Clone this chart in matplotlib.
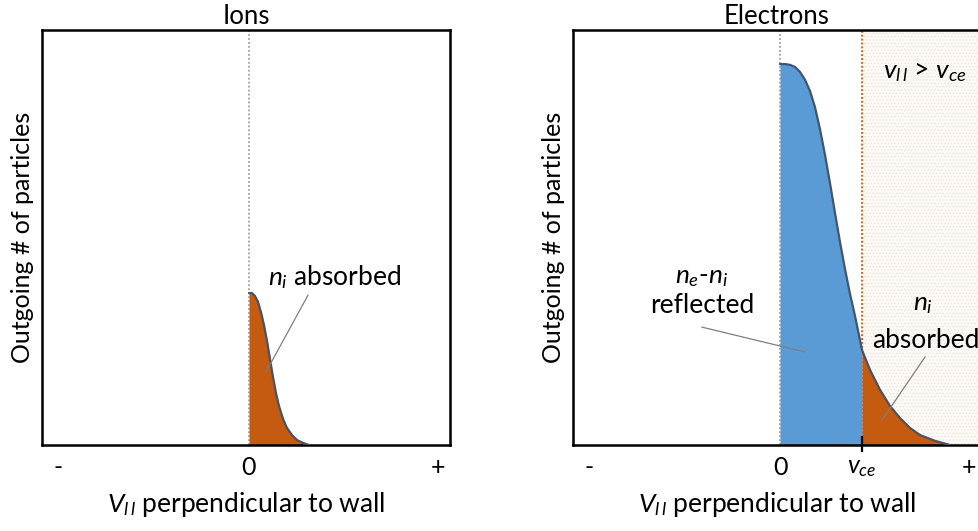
import numpy as np
import matplotlib
matplotlib.use("Agg")
import matplotlib.pyplot as plt

plt.rcParams['font.family'] = ['Lato', 'DejaVu Sans']
plt.rcParams['mathtext.fontset'] = 'custom'
plt.rcParams['mathtext.rm'] = 'Lato'
plt.rcParams['mathtext.it'] = 'Lato:italic'
plt.rcParams['hatch.linewidth'] = 0.5

# outgoing distributions (arbitrary units)
ion_v = [0, 0.015, 0.03, 0.045, 0.06, 0.075, 0.09, 0.105, 0.12, 0.135, 0.15,
         0.17, 0.19, 0.215, 0.24, 0.27, 0.30]
ion_f = [0.366, 0.366, 0.359, 0.345, 0.320, 0.289, 0.251, 0.207, 0.164, 0.125, 0.094,
         0.063, 0.041, 0.024, 0.012, 0.005, 0.0]

elec_v = [0, 0.025, 0.05, 0.075, 0.1, 0.125, 0.15, 0.175, 0.2, 0.225, 0.25, 0.275, 0.3,
          0.325, 0.35, 0.375, 0.41, 0.45, 0.5, 0.55, 0.6, 0.65, 0.7, 0.775, 0.85]
elec_f = [0.918, 0.918, 0.916, 0.911, 0.899, 0.880, 0.853, 0.814, 0.761, 0.699, 0.631,
          0.559, 0.489, 0.424, 0.364, 0.311, 0.229, 0.181, 0.133, 0.094, 0.065, 0.041,
          0.024, 0.010, 0.0]

v_ce = 0.41
xticks = [-0.955, 0, 0.945]
xlabels = ["-", "0", "+"]

orange = "#c55a11"
blue = "#5b9bd5"
outline = "#44546a"
vpar = r"$V_{l\,l}$"

fig = plt.figure(figsize=(9.79, 5.31), dpi=100)
W, H = 979, 531
ax1 = fig.add_axes([42 / W, 86 / H, 408 / W, 415 / H])
ax2 = fig.add_axes([573 / W, 86 / H, 408 / W, 415 / H])

for ax in (ax1, ax2):
    ax.set_xlim(-1.035, 1.005)
    ax.set_ylim(0, 1)
    for s in ax.spines.values():
        s.set_linewidth(1.8)
        s.set_color("black")
    ax.set_yticks([])
    ax.axvline(0, color="#a0a0a0", linestyle=(0, (1, 1.2)), linewidth=1.3, zorder=1)
    ax.set_ylabel("Outgoing # of particles", fontsize=18, labelpad=6)
    ax.set_xlabel(vpar + " perpendicular to wall", fontsize=19, labelpad=8)
    ax.tick_params(axis="x", length=0, labelsize=18, pad=8)

# Ions
ax1.set_title("Ions", fontsize=18.5, pad=4)
ax1.fill_between(ion_v, ion_f, 0, color=orange, zorder=2, linewidth=0)
ax1.plot(ion_v, ion_f, color=outline, linewidth=1.6, zorder=3, solid_capstyle="round")
ax1.set_xticks(xticks)
ax1.set_xticklabels(xlabels)
ax1.text(0.43, 0.405, r"$n_i$ absorbed", fontsize=19, ha="center", va="center")
ax1.plot([0.295, 0.085], [0.361, 0.176], color="#7f7f7f", linewidth=0.9, zorder=4)

# Electrons
ax2.set_title("Electrons", fontsize=18.5, pad=4)
ax2.axvspan(v_ce, 1.005, facecolor="#fefaf7", edgecolor="#f0dfd4", hatch=".....",
            linewidth=0, zorder=0)
ax2.axvline(v_ce, color="#d2691e", linestyle=(0, (1, 1)), linewidth=1.4, zorder=1)
ev = np.array(elec_v)
ef = np.array(elec_f)
ax2.fill_between(ev, ef, 0, where=ev <= v_ce, color=blue, zorder=2, linewidth=0)
ax2.fill_between(ev, ef, 0, where=ev >= v_ce, color=orange, zorder=2, linewidth=0)
ax2.plot(ev, ef, color=outline, linewidth=1.6, zorder=3, solid_capstyle="round")
ax2.set_xticks([xticks[0], 0, v_ce, xticks[2]])
ax2.set_xticklabels(["-", "0", r"$v_{ce}$", "+"])
ax2.plot([v_ce, v_ce], [-0.015, 0.02], color="black", linewidth=1.6, clip_on=False, zorder=5)

ax2.text(-0.39, 0.405, r"$n_e$-$n_i$", fontsize=19, ha="center", va="center")
ax2.text(-0.39, 0.335, "reflected", fontsize=19, ha="center", va="center")
ax2.plot([-0.39, 0.125], [0.284, 0.224], color="#7f7f7f", linewidth=0.9, zorder=4)

ax2.text(0.715, 0.342, r"$n_i$", fontsize=19, ha="center", va="center")
ax2.text(0.46, 0.253, "absorbed", fontsize=19, ha="left", va="center")
ax2.plot([0.725, 0.51], [0.212, 0.06], color="#7f7f7f", linewidth=0.9, zorder=4)

ax2.text(0.725, 0.899, r"$v_{l\,l}$ > $v_{ce}$", fontsize=19, ha="center", va="center")

fig.savefig("out.png", dpi=100)
